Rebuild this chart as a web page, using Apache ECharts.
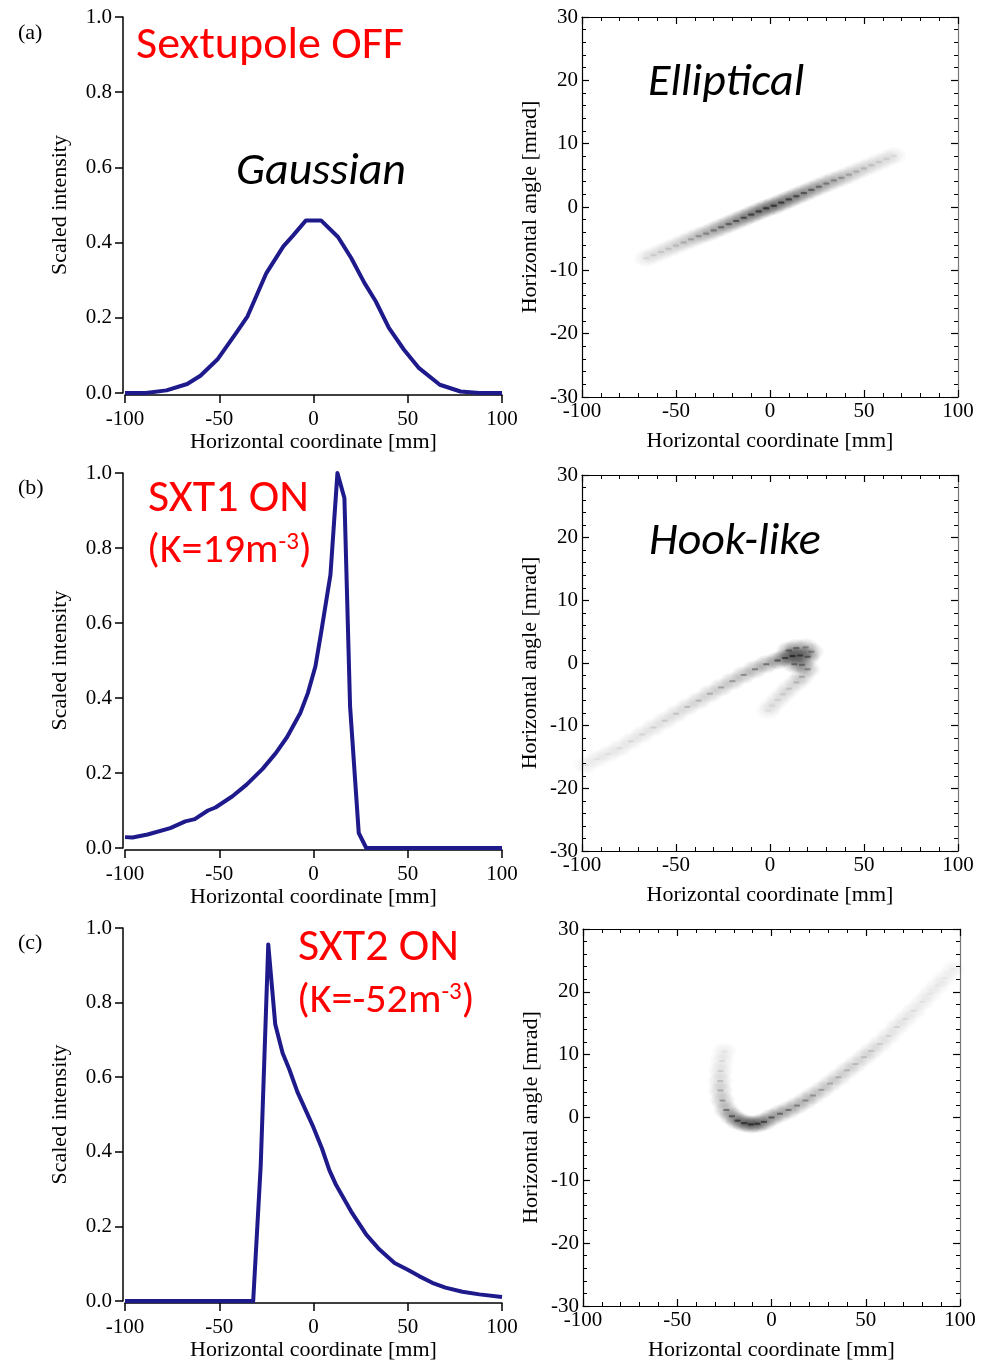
<!DOCTYPE html>
<html>
<head>
<meta charset="utf-8">
<script src="https://cdn.jsdelivr.net/npm/echarts@6/dist/echarts.min.js"></script>
<style>
html,body{margin:0;padding:0;background:#fff;}
#chart{width:993px;height:1362px;}
</style>
</head>
<body>
<div id="chart"></div>
<script>
// ---------- data ----------
// (a) Sextupole OFF – intensity profile
const gaussX = [-100,-89,-78,-67,-60,-51,-41,-35,-25,-16,-11,-4,4,13,20,27,33,40,48,56,67,78,88,100];
const gaussY = [0,0,0.007,0.024,0.046,0.089,0.16,0.204,0.319,0.39,0.418,0.459,0.459,0.415,0.359,0.293,0.244,0.173,0.115,0.066,0.022,0.004,0,0];
// (b) SXT1 ON
const sxt1X = [-100,-96,-88,-76,-68,-63,-56,-52,-43,-35.5,-27,-20,-14,-7,-3,1,4,9,12.7,16.4,19.4,24,28,100];
const sxt1Y = [0.029,0.028,0.036,0.053,0.071,0.077,0.1,0.108,0.138,0.169,0.211,0.253,0.296,0.36,0.413,0.484,0.573,0.729,1.0,0.933,0.378,0.04,0,0];
// (c) SXT2 ON
const sxt2X = [-100,-32,-28,-24,-20.3,-16.4,-12.9,-8.5,-0.5,4.5,8.4,12,20,28,35,43,50,56,63,70,79,88,100];
const sxt2Y = [0,0,0.364,0.956,0.742,0.665,0.622,0.56,0.471,0.409,0.351,0.311,0.24,0.178,0.138,0.102,0.084,0.067,0.049,0.036,0.025,0.018,0.011];

// phase-space densities: [x (mm), angle (mrad), relative density]
const ellipticalCloud = [[-66,-8.1,0.06],[-62,-7.6,0.08],[-58,-7.1,0.1],[-54,-6.6,0.13],[-50,-6.1,0.17],[-46,-5.6,0.22],[-42,-5.1,0.28],[-38,-4.6,0.35],[-34,-4.2,0.42],[-30,-3.7,0.5],[-26,-3.2,0.58],[-22,-2.7,0.66],[-18,-2.2,0.74],[-14,-1.7,0.82],[-10,-1.2,0.9],[-6,-0.7,0.96],[-2,-0.2,1],[2,0.2,1],[6,0.7,0.96],[10,1.2,0.9],[14,1.7,0.82],[18,2.2,0.74],[22,2.7,0.66],[26,3.2,0.58],[30,3.7,0.5],[34,4.2,0.42],[38,4.6,0.35],[42,5.1,0.28],[46,5.6,0.22],[50,6.1,0.17],[54,6.6,0.13],[58,7.1,0.1],[62,7.6,0.08],[66,8.1,0.06]];
const hookCloud = [[-98,-16.3,0.04],[-92,-15.3,0.05],[-86,-14.5,0.06],[-80,-13.6,0.08],[-74,-12.5,0.1],[-68,-11.4,0.12],[-62,-10.3,0.14],[-56,-9.2,0.17],[-50,-8.1,0.2],[-44,-7.0,0.24],[-38,-6.0,0.28],[-32,-4.9,0.33],[-26,-3.9,0.38],[-20,-2.9,0.44],[-14,-1.9,0.5],[-8,-1.0,0.57],[-2,-0.2,0.65],[4,0.4,0.75],[8,0.8,0.85],[12,1.1,1],[16,1.2,0.95],[20,1.0,0.7],[10,2.0,0.6],[14,2.4,0.55],[19,2.5,0.45],[22,1.8,0.4],[13,-0.2,0.65],[17,-0.3,0.6],[20,-1.0,0.45],[17,-2.2,0.3],[14,-3.1,0.22],[10,-4.1,0.16],[7,-5.0,0.11],[4,-5.9,0.08],[1,-6.8,0.05],[-1,-7.6,0.03]];
const sxt2Cloud = [[-25,10.5,0.04],[-26.3,9,0.08],[-27,7.4,0.14],[-27.2,5.8,0.22],[-27,4.3,0.32],[-26,2.7,0.45],[-24,1.2,0.6],[-21,0.2,0.72],[-18,-0.5,0.85],[-14.5,-0.9,0.95],[-11,-1.1,1],[-7.5,-1.0,0.92],[-4,-0.7,0.82],[0,0,0.72],[4.5,0.6,0.62],[9,1.2,0.55],[13.5,1.9,0.5],[18,2.7,0.45],[22,3.5,0.4],[26.5,4.4,0.36],[31,5.4,0.33],[35.5,6.4,0.3],[40,7.5,0.27],[44.5,8.5,0.24],[49,9.6,0.21],[53,10.6,0.18],[57.5,11.7,0.15],[62,13.0,0.13],[66.5,14.4,0.11],[71,15.7,0.09],[75.5,17.0,0.07],[80,18.4,0.05],[84,19.7,0.04],[88,21,0.03],[92,22.2,0.02],[96.5,23.6,0.01]];

const panelLabels = ['(a)','(b)','(c)'];
const xName = 'Horizontal coordinate [mm]';
const yNameLeft = 'Scaled intensity';
const yNameRight = 'Horizontal angle [mrad]';

// ---------- layout ----------
const SERIF = '"Liberation Serif","Times New Roman",serif';
const SANS = 'Carlito, Lato, sans-serif';
const LINE_COLOR = '#1f1a8c';

const leftGrids = [
  {left:125, top:17, width:377, height:376},
  {left:125, top:473, width:377, height:375},
  {left:125, top:928, width:377, height:375}
];
const rightGrids = [
  {left:582, top:17, width:376, height:380},
  {left:582, top:475, width:376, height:376},
  {left:583, top:929, width:377, height:377}
];

const grid = [], xAxis = [], yAxis = [], series = [];
const lineSets = [[gaussX,gaussY],[sxt1X,sxt1Y],[sxt2X,sxt2Y]];
const clouds = [ellipticalCloud, hookCloud, sxt2Cloud];

const axisLineL = {onZero:false, lineStyle:{color:'#000', width:1.5}};
const labelStyle = {fontFamily:SERIF, fontSize:21, color:'#000'};
const nameStyle = {fontFamily:SERIF, fontSize:22, color:'#000'};

const haloIdx = [], coreIdx = [], rightX = [], rightY = [];

for (let r = 0; r < 3; r++) {
  // left panel
  const gL = grid.length;
  grid.push(leftGrids[r]);
  const xL = xAxis.length;
  xAxis.push({gridIndex:gL, type:'value', min:-100, max:100, interval:50, offset:2,
    axisLine:axisLineL, axisTick:{length:8, lineStyle:{color:'#000', width:1.5}},
    axisLabel:Object.assign({margin:14}, labelStyle), splitLine:{show:false},
    name:xName, nameLocation:'middle', nameGap:34, nameTextStyle:nameStyle});
  const yL = yAxis.length;
  yAxis.push({gridIndex:gL, type:'value', min:0, max:1, interval:0.2, offset:2,
    axisLine:axisLineL, axisTick:{length:8, lineStyle:{color:'#000', width:1.5}},
    axisLabel:Object.assign({margin:11, formatter:v => v.toFixed(1)}, labelStyle), splitLine:{show:false},
    name:yNameLeft, nameLocation:'middle', nameGap:52, nameTextStyle:nameStyle});
  series.push({type:'line', xAxisIndex:xL, yAxisIndex:yL, showSymbol:false, symbol:'none',
    lineStyle:{color:LINE_COLOR, width:4, join:'round'}, animation:false,
    data: lineSets[r][0].map((x,i) => [x, lineSets[r][1][i]])});

  // right panel (box with inward ticks on all sides)
  const gR = grid.length;
  grid.push(rightGrids[r]);
  const tick = {inside:true, length:7, lineStyle:{color:'#000', width:1.2}};
  const minor = {show:true, splitNumber:5, length:4, lineStyle:{color:'#000', width:1}};
  const boxLine = {onZero:false, lineStyle:{color:'#000', width:1.2}};
  rightX.push(xAxis.length);
  xAxis.push({gridIndex:gR, type:'value', min:-100, max:100, interval:50,
    axisLine:boxLine, axisTick:tick, minorTick:minor,
    axisLabel:Object.assign({margin:4}, labelStyle), splitLine:{show:false},
    name:xName, nameLocation:'middle', nameGap:33, nameTextStyle:nameStyle});
  xAxis.push({gridIndex:gR, type:'value', position:'top', min:-100, max:100, interval:50,
    axisLine:boxLine, axisTick:tick, minorTick:minor,
    axisLabel:{show:false}, splitLine:{show:false}});
  rightY.push(yAxis.length);
  yAxis.push({gridIndex:gR, type:'value', min:-30, max:30, interval:10,
    axisLine:boxLine, axisTick:tick, minorTick:minor,
    axisLabel:Object.assign({margin:4}, labelStyle), splitLine:{show:false},
    name:yNameRight, nameLocation:'middle', nameGap:41, nameTextStyle:nameStyle});
  yAxis.push({gridIndex:gR, type:'value', position:'right', min:-30, max:30, interval:10,
    axisLine:{onZero:false, lineStyle:{color:'#777', width:1.2}}, axisTick:tick, minorTick:minor,
    axisLabel:{show:false}, splitLine:{show:false}});
}

// cloud series: soft halo (radial gradient blobs) + small bead dashes
const softBlob = {type:'radial', x:0.5, y:0.5, r:0.5, colorStops:[
  {offset:0, color:'rgba(0,0,0,1)'}, {offset:0.5, color:'rgba(0,0,0,0.6)'}, {offset:1, color:'rgba(0,0,0,0)'}]};
for (let r = 0; r < 3; r++) {
  haloIdx.push(series.length);
  series.push({type:'scatter', xAxisIndex:rightX[r], yAxisIndex:rightY[r], symbol:'circle', symbolSize:[26,19],
    itemStyle:{color:softBlob}, animation:false, silent:true, data:clouds[r]});
}
for (let r = 0; r < 3; r++) {
  coreIdx.push(series.length);
  series.push({type:'scatter', xAxisIndex:rightX[r], yAxisIndex:rightY[r], symbol:'rect', symbolSize:[6,2],
    itemStyle:{color:'#111'}, animation:false, silent:true, data:clouds[r]});
}

// ---------- annotations ----------
const redBig = {fontFamily:SANS, fontSize:46, fill:'#ff0000'};
const redK = {fontFamily:SANS, fontSize:42, fill:'#ff0000'};
const texts = [];
function txt(x, y, text, extra) {
  texts.push({type:'text', x:x, y:y, silent:true, style:Object.assign({text:text, align:'left', verticalAlign:'middle'}, extra)});
}
txt(18, 33, panelLabels[0], {fontFamily:SERIF, fontSize:22, fill:'#000'});
txt(18, 488, panelLabels[1], {fontFamily:SERIF, fontSize:22, fill:'#000'});
txt(18, 943, panelLabels[2], {fontFamily:SERIF, fontSize:22, fill:'#000'});
txt(136, 46, 'Sextupole OFF', redBig);
txt(236, 172, 'Gaussian', {fontFamily:SANS, fontSize:46, fontStyle:'italic', fill:'#000'});
txt(648, 83, 'Elliptical', {fontFamily:SANS, fontSize:46, fontStyle:'italic', fill:'#000'});
txt(649, 542, 'Hook-like', {fontFamily:SANS, fontSize:46, fontStyle:'italic', fill:'#000'});
txt(148, 499, 'SXT1 ON', redBig);
txt(298, 948, 'SXT2 ON', redBig);
const supRich = {sup:{fontFamily:SANS, fontSize:25, lineHeight:25, verticalAlign:'top', fill:'#ff0000'}};
txt(147, 551, '(K=19m{sup|-3})', Object.assign({lineHeight:42, rich:supRich}, redK));
txt(297, 1001, '(K=-52m{sup|-3})', Object.assign({lineHeight:42, rich:supRich}, redK));

const chart = echarts.init(document.getElementById('chart'), null, {renderer:'canvas'});
chart.setOption({
  backgroundColor:'#fff',
  animation:false,
  grid, xAxis, yAxis, series,
  visualMap:[
    {type:'continuous', show:false, seriesIndex:haloIdx, dimension:2, min:0, max:1, inRange:{opacity:[0.06,0.42]}},
    {type:'continuous', show:false, seriesIndex:coreIdx, dimension:2, min:0, max:1, inRange:{opacity:[0.02,0.6]}}
  ],
  graphic:texts
});
</script>
</body>
</html>
